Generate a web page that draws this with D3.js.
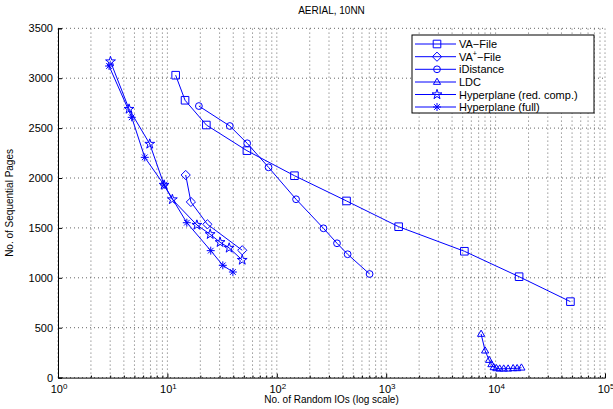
<!DOCTYPE html>
<html>
<head>
<meta charset="utf-8">
<script src="https://cdn.jsdelivr.net/npm/d3@7"></script>
<style>
  html, body { margin: 0; padding: 0; background: #fff; }
  svg { display: block; font-family: "Liberation Sans", Arial, Helvetica, sans-serif; }
</style>
</head>
<body>
<svg id="chart" width="613" height="409"></svg>
<script>
// Random IOs (x, log scale) and sequential pages (y) per method
const vaFileIOs    = [11.9, 14.5, 22.7, 53.3, 145, 434, 1299, 5183, 16400, 48300];
const vaFilePages  = [3030, 2779, 2531, 2274, 2023, 1770, 1512, 1266, 1011, 761];

const vaPlusIOs    = [14.7, 16.4, 23.2, 48.3];
const vaPlusPages  = [2030, 1760, 1536, 1276];

const iDistIOs     = [19.4, 37.2, 53.6, 84.0, 150, 267, 355, 444, 705];
const iDistPages   = [2721, 2521, 2348, 2107, 1787, 1496, 1346, 1236, 1038];

const ldcIOs       = [7370, 8017, 8720, 9155, 9607, 10170, 10900, 11860, 13010, 14460, 15730, 17220];
const ldcPages     = [437, 270, 176, 133, 103, 93, 89, 89, 89, 93, 93, 99];

const hypRedIOs    = [3.02, 4.46, 6.90, 9.33, 11.1, 18.6, 24.6, 30.3, 36.7, 48.3];
const hypRedPages  = [3167, 2691, 2341, 1930, 1785, 1529, 1436, 1356, 1299, 1178];

const hypFullIOs   = [2.93, 4.72, 6.21, 9.33, 15.05, 24.9, 32.1, 39.7];
const hypFullPages = [3122, 2608, 2207, 1930, 1552, 1272, 1125, 1058];

const yTicks = [0, 500, 1000, 1500, 2000, 2500, 3000, 3500];
const xDecades = [1, 10, 100, 1000, 10000, 100000];
const xExponents = ["0", "1", "2", "3", "4", "5"];

const titleText = "AERIAL, 10NN";
const xLabelText = "No. of Random IOs (log scale)";
const yLabelText = "No. of Sequential Pages";

const BLUE = "#0000ff";

const svg = d3.select("#chart");
const W = 613, H = 409;
const plot = { left: 58, right: 605, top: 28.3, bottom: 377.6 };

const x = d3.scaleLog().domain([1, 1e5]).range([plot.left, plot.right]);
const y = d3.scaleLinear().domain([0, 3500]).range([plot.bottom, plot.top]);

svg.append("rect").attr("width", W).attr("height", H).attr("fill", "#fff");

// minor x positions (2..9 of each decade)
const xMinor = [];
for (let d = 0; d < 5; d++) {
  for (let m = 2; m <= 9; m++) xMinor.push(m * Math.pow(10, d));
}

// dotted grid
const grid = svg.append("g").attr("class", "grid")
  .attr("stroke", "#555").attr("stroke-width", 0.9)
  .attr("stroke-dasharray", "1,3").attr("fill", "none");
xDecades.concat(xMinor).forEach(v => {
  grid.append("line")
    .attr("x1", x(v)).attr("x2", x(v))
    .attr("y1", plot.bottom).attr("y2", plot.top);
});
yTicks.forEach(v => {
  grid.append("line")
    .attr("x1", plot.left).attr("x2", plot.right)
    .attr("y1", y(v)).attr("y2", y(v));
});

// axes
const yAxis = d3.axisLeft(y).tickValues(yTicks).tickSize(-4).tickPadding(5).tickFormat(d3.format("d"));
const gy = svg.append("g").attr("transform", `translate(${plot.left},0)`).call(yAxis);
gy.selectAll("text").attr("font-size", 11).attr("fill", "#000")
  .attr("font-family", "Liberation Sans, Arial, sans-serif");

const xAxis = d3.axisBottom(x).tickValues(xDecades).tickSize(-4).tickFormat("");
const gx = svg.append("g").attr("transform", `translate(0,${plot.bottom})`).call(xAxis);
const xAxisMinor = d3.axisBottom(x).tickValues(xMinor).tickSize(-2).tickFormat("");
const gxm = svg.append("g").attr("transform", `translate(0,${plot.bottom})`).call(xAxisMinor);
gxm.select(".domain").remove();

[gx, gy, gxm].forEach(g => {
  g.selectAll(".domain").attr("stroke", "#000").attr("stroke-width", 1);
  g.selectAll(".tick line").attr("stroke", "#000");
});

// decade labels 10^n
xDecades.forEach((v, i) => {
  const t = svg.append("text")
    .attr("x", x(v) + 1).attr("y", plot.bottom + 15.5)
    .attr("text-anchor", "middle").attr("font-size", 11).attr("fill", "#000");
  t.append("tspan").text("10");
  t.append("tspan").attr("dy", -4).attr("font-size", 8).text(xExponents[i]);
});

// title and axis labels
svg.append("text").attr("x", (plot.left + plot.right) / 2).attr("y", 14)
  .attr("text-anchor", "middle").attr("font-size", 10).text(titleText);
svg.append("text").attr("x", (plot.left + plot.right) / 2).attr("y", 403)
  .attr("text-anchor", "middle").attr("font-size", 10).text(xLabelText);
svg.append("text")
  .attr("transform", `translate(13,${(plot.top + plot.bottom) / 2}) rotate(-90)`)
  .attr("text-anchor", "middle").attr("font-size", 10).text(yLabelText);

// marker shapes
function squarePath(s) { return `M${-s},${-s}H${s}V${s}H${-s}Z`; }
function diamondPath(s) { return `M0,${-s}L${s},0L0,${s}L${-s},0Z`; }
function circlePath(r) { return `M${r},0A${r},${r} 0 1,1 ${-r},0A${r},${r} 0 1,1 ${r},0Z`; }
function trianglePath(w, h) { return `M0,${-h * 0.62}L${w},${h * 0.38}L${-w},${h * 0.38}Z`; }
function asteriskPath(r) {
  const d = r * Math.SQRT1_2;
  return `M${-r},0H${r}M0,${-r}V${r}M${-d},${-d}L${d},${d}M${-d},${d}L${d},${-d}`;
}
const starPath = d3.symbol(d3.symbolStar, 30)();

const series = [
  { name: "VA−File", ios: vaFileIOs, pages: vaFilePages, marker: squarePath(3.8) },
  { name: "VA+−File", ios: vaPlusIOs, pages: vaPlusPages, marker: diamondPath(4.6) },
  { name: "iDistance", ios: iDistIOs, pages: iDistPages, marker: circlePath(3.4) },
  { name: "LDC", ios: ldcIOs, pages: ldcPages, marker: trianglePath(3.6, 6.2) },
  { name: "Hyperplane (red. comp.)", ios: hypRedIOs, pages: hypRedPages, marker: starPath },
  { name: "Hyperplane (full)", ios: hypFullIOs, pages: hypFullPages, marker: asteriskPath(4) }
];

const line = d3.line().x(d => x(d[0])).y(d => y(d[1]));

series.forEach(s => {
  const pts = s.ios.map((v, i) => [v, s.pages[i]]);
  const g = svg.append("g");
  g.append("path").attr("d", line(pts))
    .attr("fill", "none").attr("stroke", BLUE).attr("stroke-width", 1);
  g.selectAll("path.m").data(pts).enter().append("path")
    .attr("class", "m")
    .attr("transform", d => `translate(${x(d[0])},${y(d[1])})`)
    .attr("d", s.marker)
    .attr("fill", "none").attr("stroke", BLUE).attr("stroke-width", 1);
});

// legend
const lg = svg.append("g");
lg.append("rect").attr("x", 412).attr("y", 35).attr("width", 182).attr("height", 78)
  .attr("fill", "#fff").attr("stroke", "#000").attr("stroke-width", 1);
const rowY = [44, 56.7, 69.3, 82, 94.5, 107];
series.forEach((s, i) => {
  const ry = rowY[i];
  lg.append("line").attr("x1", 415).attr("x2", 456).attr("y1", ry).attr("y2", ry)
    .attr("stroke", BLUE).attr("stroke-width", 1);
  lg.append("path").attr("transform", `translate(437,${ry})`).attr("d", s.marker)
    .attr("fill", "none").attr("stroke", BLUE).attr("stroke-width", 1);
  const t = lg.append("text").attr("x", 459).attr("y", ry + 4).attr("font-size", 11).attr("fill", "#000");
  if (s.name === "VA+−File") {
    t.append("tspan").text("VA");
    t.append("tspan").attr("dy", -5).attr("font-size", 7).text("+");
    t.append("tspan").attr("dy", 5).text("−File");
  } else {
    t.text(s.name);
  }
});
</script>
</body>
</html>
